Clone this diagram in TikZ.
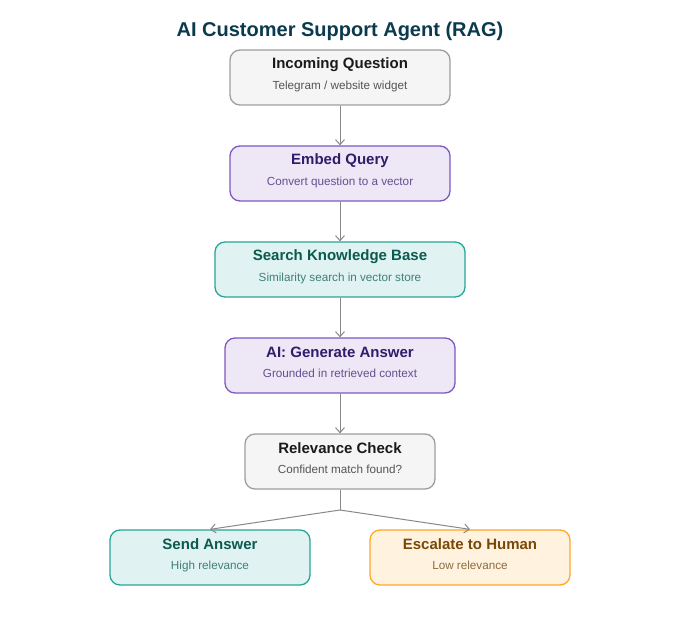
\documentclass[tikz,border=0pt]{standalone}
\usepackage{fontspec}
\setmainfont{Liberation Sans}
\usetikzlibrary{arrows.meta}
\definecolor{titlec}{HTML}{0B3A4E}
\definecolor{grayfill}{HTML}{F5F5F5}
\definecolor{grayline}{HTML}{9E9E9E}
\definecolor{graytitle}{HTML}{1A1A1A}
\definecolor{graysub}{HTML}{555555}
\definecolor{purfill}{HTML}{EDE7F6}
\definecolor{purline}{HTML}{7E57C2}
\definecolor{purtitle}{HTML}{311B6B}
\definecolor{pursub}{HTML}{66508F}
\definecolor{tealfill}{HTML}{E0F2F1}
\definecolor{tealline}{HTML}{26A69A}
\definecolor{tealtitle}{HTML}{0B5A50}
\definecolor{tealsub}{HTML}{3F8078}
\definecolor{orfill}{HTML}{FFF3E0}
\definecolor{orline}{HTML}{FFA726}
\definecolor{ortitle}{HTML}{7A4806}
\definecolor{orsub}{HTML}{8D6B3F}
\definecolor{arrowc}{HTML}{888888}
\tikzset{
  box/.style={draw, rounded corners=10pt, line width=1.3pt, minimum height=55pt, inner sep=0pt},
  graybox/.style={box, fill=grayfill, draw=grayline},
  purbox/.style={box, fill=purfill, draw=purline},
  tealbox/.style={box, fill=tealfill, draw=tealline},
  orbox/.style={box, fill=orfill, draw=orline},
  ttl/.style={font=\bfseries\fontsize{15}{18}\selectfont, inner sep=0pt, anchor=base},
  sub/.style={font=\fontsize{11.7}{14}\selectfont, inner sep=0pt, anchor=base},
  conn/.style={draw=arrowc, line width=1pt, -{Straight Barb[length=5pt,width=9pt]}},
  plainconn/.style={draw=arrowc, line width=1pt},
}
\begin{document}
\begin{tikzpicture}[x=1pt,y=-1pt]
\useasboundingbox (0,0) rectangle (680,620);
\node[font=\bfseries\fontsize{20}{24}\selectfont, text=titlec, inner sep=0pt, anchor=base] (title) at (340,36.5) {AI Customer Support Agent (RAG)};

\node[graybox, minimum width=220pt] (b1) at (340,77.5) {};
\node[ttl, text=graytitle] (b1t) at (340,69) {Incoming Question};
\node[sub, text=graysub] (b1s) at (340,89.5) {Telegram / website widget};

\node[purbox, minimum width=220pt] (b2) at (340,173.5) {};
\node[ttl, text=purtitle] (b2t) at (340,165) {Embed Query};
\node[sub, text=pursub] (b2s) at (340,185.5) {Convert question to a vector};

\node[tealbox, minimum width=250pt] (b3) at (340,269.5) {};
\node[ttl, text=tealtitle] (b3t) at (340,261) {Search Knowledge Base};
\node[sub, text=tealsub] (b3s) at (340,281.5) {Similarity search in vector store};

\node[purbox, minimum width=230pt] (b4) at (340,365.5) {};
\node[ttl, text=purtitle] (b4t) at (340,357) {AI: Generate Answer};
\node[sub, text=pursub] (b4s) at (340,377.5) {Grounded in retrieved context};

\node[graybox, minimum width=190pt] (b5) at (340,461.5) {};
\node[ttl, text=graytitle] (b5t) at (340,453) {Relevance Check};
\node[sub, text=graysub] (b5s) at (340,473.5) {Confident match found?};

\node[tealbox, minimum width=200pt] (b6) at (210,557.5) {};
\node[ttl, text=tealtitle] (b6t) at (210,549) {Send Answer};
\node[sub, text=tealsub] (b6s) at (210,569.5) {High relevance};

\node[orbox, minimum width=200pt] (b7) at (470,557.5) {};
\node[ttl, text=ortitle] (b7t) at (470,549) {Escalate to Human};
\node[sub, text=orsub] (b7s) at (470,569.5) {Low relevance};

\coordinate (split) at (340,510);

\draw[conn] (b1.south) -- (b2.north);
\draw[conn] (b2.south) -- (b3.north);
\draw[conn] (b3.south) -- (b4.north);
\draw[conn] (b4.south) -- (b5.north);
\draw[plainconn] (b5.south) -- (split);
\draw[conn] (split) -- (b6.north);
\draw[conn] (split) -- (b7.north);
\end{tikzpicture}
\end{document}
